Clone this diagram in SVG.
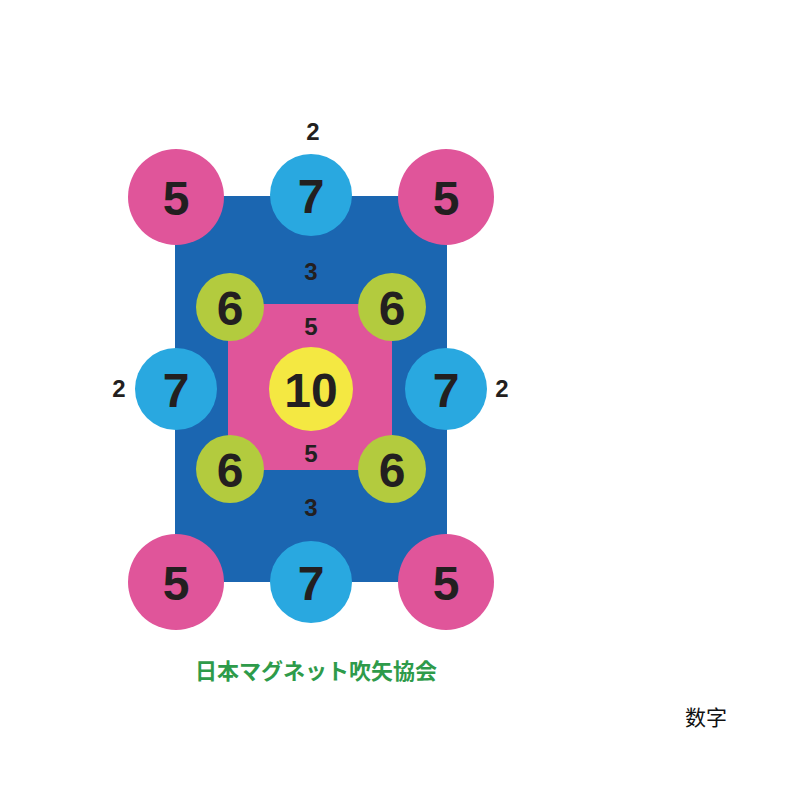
<svg xmlns="http://www.w3.org/2000/svg" width="800" height="800" viewBox="0 0 800 800">
<style>
.big{font-family:"Liberation Sans",Arial,sans-serif;font-weight:bold;font-size:48px;fill:#231F20;text-anchor:middle;dominant-baseline:central}
.sm{font-family:"Liberation Sans",Arial,sans-serif;font-weight:bold;font-size:24px;fill:#231F20;text-anchor:middle;dominant-baseline:central}
.c5{fill:#E0559A}.c7{fill:#29A8E0}.c6{fill:#B3CB3E}.c10{fill:#F4E842}
</style>
<rect width="800" height="800" fill="#fff"/>
<g id="board">
<rect x="175" y="196" width="272" height="386" fill="#1B66B1"/>
<rect x="228" y="304" width="164" height="166" fill="#E0559A"/>
</g>
<g id="n5tl"><circle class="c5" cx="176" cy="197" r="48"/><text class="big" x="176" y="198">5</text></g>
<g id="n7t"><circle class="c7" cx="311" cy="195" r="41"/><text class="big" x="311" y="196">7</text></g>
<g id="n5tr"><circle class="c5" cx="446" cy="197" r="48"/><text class="big" x="446" y="198">5</text></g>
<g id="n6tl"><circle class="c6" cx="230" cy="307" r="34"/><text class="big" x="230" y="308">6</text></g>
<g id="n6tr"><circle class="c6" cx="392" cy="307" r="34"/><text class="big" x="392" y="308">6</text></g>
<g id="n7l"><circle class="c7" cx="176" cy="389" r="41"/><text class="big" x="176" y="390">7</text></g>
<g id="n10"><circle class="c10" cx="311" cy="389" r="42"/><text class="big" x="311" y="390">10</text></g>
<g id="n7r"><circle class="c7" cx="446" cy="389" r="41"/><text class="big" x="446" y="390">7</text></g>
<g id="n6bl"><circle class="c6" cx="230" cy="469" r="34"/><text class="big" x="230" y="470">6</text></g>
<g id="n6br"><circle class="c6" cx="392" cy="469" r="34"/><text class="big" x="392" y="470">6</text></g>
<g id="n5bl"><circle class="c5" cx="176" cy="582" r="48"/><text class="big" x="176" y="583">5</text></g>
<g id="n7b"><circle class="c7" cx="311" cy="582" r="41"/><text class="big" x="311" y="583">7</text></g>
<g id="n5br"><circle class="c5" cx="446" cy="582" r="48"/><text class="big" x="446" y="583">5</text></g>
<g id="labels">
<text class="sm" x="313" y="131">2</text>
<text class="sm" x="311" y="271">3</text>
<text class="sm" x="311" y="326">5</text>
<text class="sm" x="311" y="453">5</text>
<text class="sm" x="311" y="507">3</text>
<text class="sm" x="119" y="388">2</text>
<text class="sm" x="502" y="388">2</text>
</g>
<text x="316" y="679" font-family="'Noto Sans CJK JP',sans-serif" font-weight="bold" font-size="22" fill="#2E9B4A" text-anchor="middle">日本マグネット吹矢協会</text>
<text x="706" y="725" font-family="'Noto Sans CJK SC',sans-serif" font-size="21" fill="#111" text-anchor="middle">数字</text>
</svg>
